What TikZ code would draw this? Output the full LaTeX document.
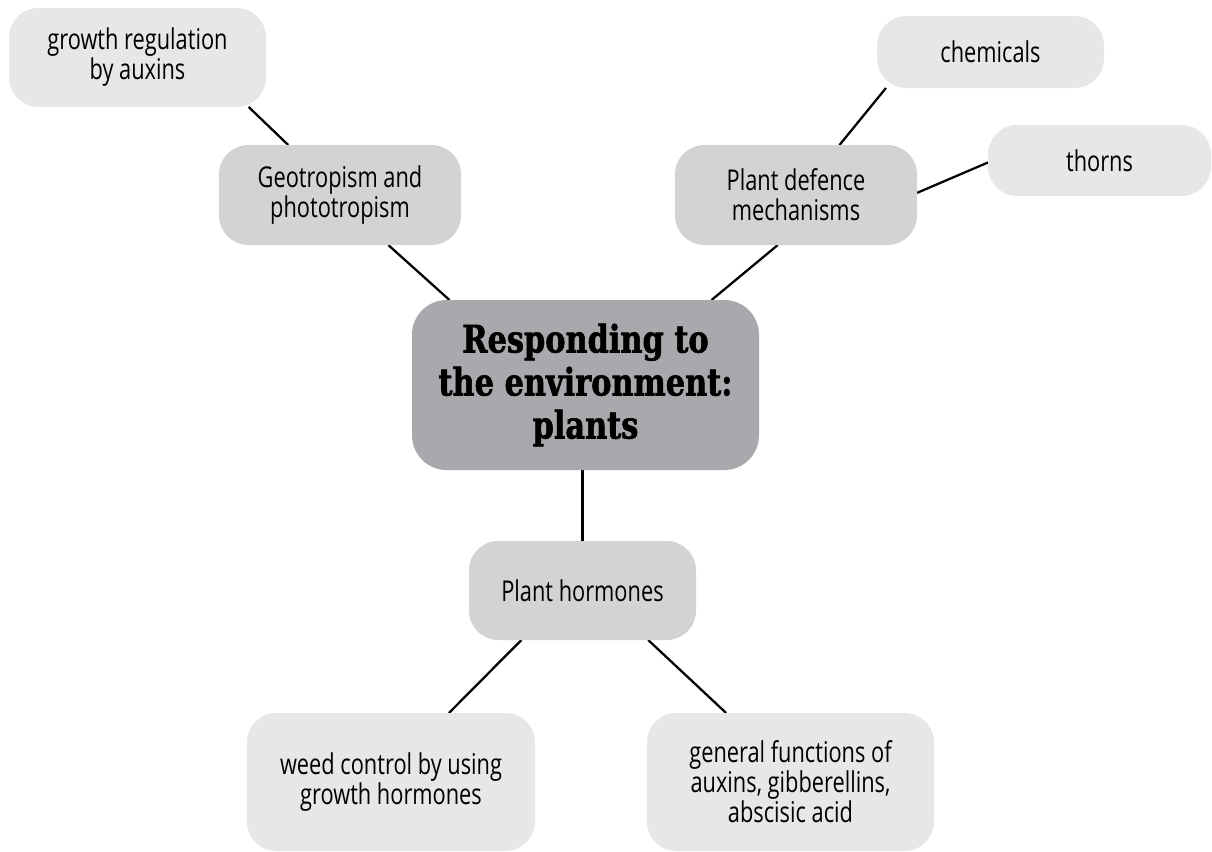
\documentclass[tikz,border=0pt]{standalone}
\usepackage{fontspec}
\setmainfont{Open Sans}[FakeStretch=0.76]
\newfontfamily\titlefont{DejaVu Serif}[FakeStretch=0.8, BoldFeatures={FakeBold=1.5}]
\pgfdeclarelayer{background}
\pgfsetlayers{background,main}
\definecolor{boxlite}{HTML}{E6E7E8}
\definecolor{boxmid}{HTML}{D1D3D4}
\definecolor{boxdark}{HTML}{A7A9AC}
\tikzset{
  sz/.style 2 args={minimum width=#1*0.75pt, minimum height=#2*0.75pt},
  topic/.style={rounded corners=22pt, inner sep=0pt, outer sep=0pt, align=center,
    font=\fontsize{21.5pt}{22.5pt}\selectfont},
  leaf/.style={topic, fill=boxlite},
  branch/.style={topic, fill=boxmid},
  hub/.style={topic, fill=boxdark, rounded corners=26pt,
    font=\titlefont\bfseries\fontsize{28.5pt}{32.25pt}\selectfont},
  link/.style={line width=1.7pt, black}
}
\begin{document}
\begin{tikzpicture}[x=0.75pt, y=-0.75pt]
\useasboundingbox (0,0) rectangle (1212,851);

% central topic
\node[hub, sz={347}{170}] (ctr) at (585.5,385) {Responding to\\the environment:\\plants};

% first-level branches
\node[branch, sz={242}{100}] (geo) at (340,195) {Geotropism and\\phototropism};
\node[branch, sz={242}{100}] (def) at (796,195) {Plant defence\\mechanisms};
\node[branch, sz={227}{99}] (hor) at (582.5,590.5) {Plant hormones};

% leaves
\node[leaf, sz={257}{99}] (gr) at (137.5,57.5) {growth regulation\\by auxins};
\node[leaf, sz={227}{72}] (chem) at (990.5,52) {chemicals};
\node[leaf, sz={223}{71}] (thorns) at (1099.5,160.5) {thorns};
\node[leaf, sz={288}{138}] (weed) at (391,782) {weed control by using\\growth hormones};
\node[leaf, sz={287}{138}] (gen) at (790.5,782) {general functions of\\auxins, gibberellins,\\abscisic acid};

% connectors, kept behind the boxes
\begin{pgfonlayer}{background}
\draw[link] (gr.-24.7) -- (geo.136.1);
\draw[link] (geo.-46.2) -- (ctr.148.3);
\draw[link] (chem.-161.4) -- (def.49.3);
\draw[link] (thorns.181.8) -- (def.1.4);
\draw[link] (def.250.2) -- (ctr.34.4);
\draw[link] (hor.north |- ctr.south) -- (hor.north);
\draw[link] (hor.219.8) -- (weed.50.4);
\draw[link] (hor.323.3) -- (gen.133.5);
\end{pgfonlayer}
\end{tikzpicture}
\end{document}
